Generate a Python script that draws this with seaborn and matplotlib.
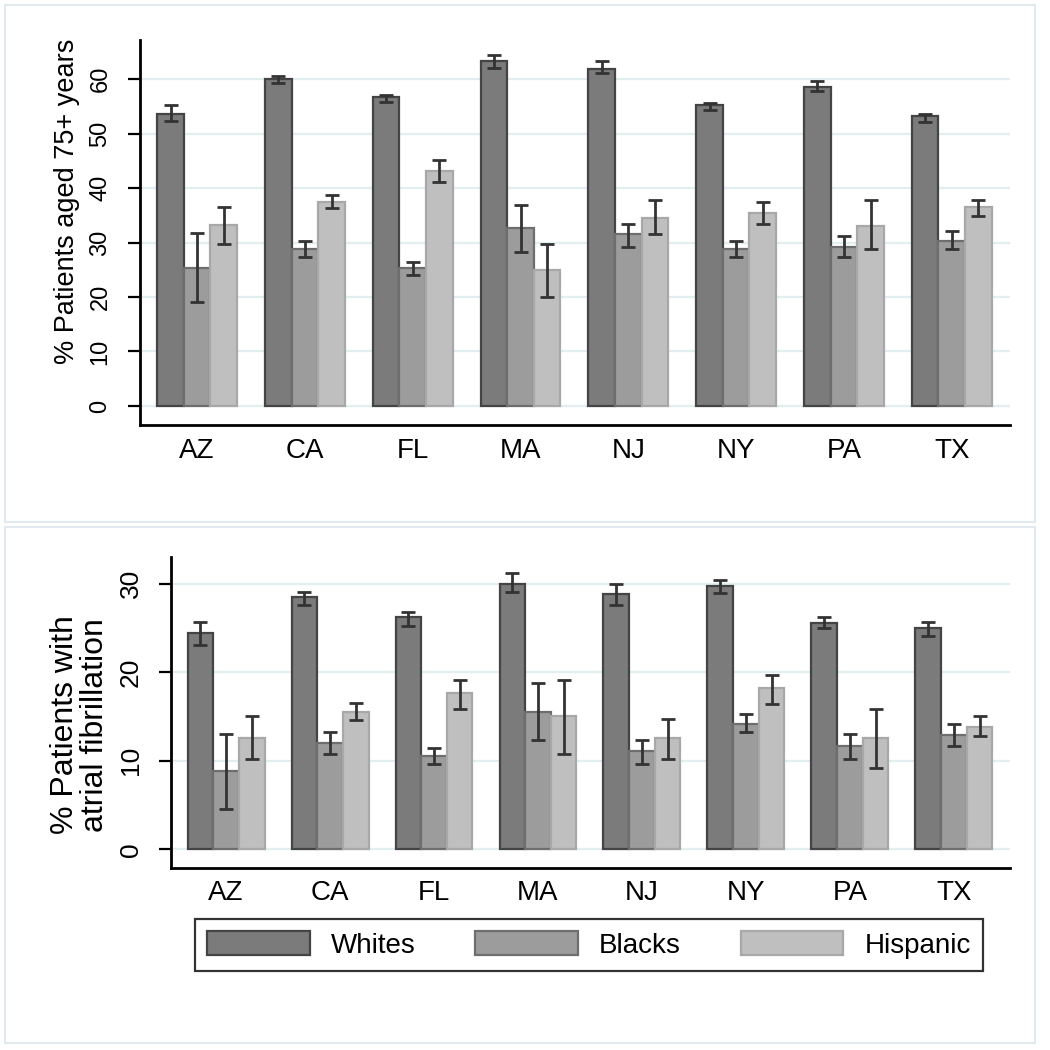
import numpy as np
import pandas as pd
import matplotlib
matplotlib.use("Agg")
import matplotlib.pyplot as plt
import seaborn as sns
from matplotlib.patches import Rectangle, Patch

states = ["AZ", "CA", "FL", "MA", "NJ", "NY", "PA", "TX"]
groups = ["Whites", "Blacks", "Hispanic"]

# Panel 1: % patients aged 75+ years
age_whites = [53.7, 60.0, 56.7, 63.4, 61.9, 55.3, 58.5, 53.3]
age_whites_lo = [52.4, 59.3, 55.9, 62.0, 61.1, 54.4, 57.9, 52.2]
age_whites_hi = [55.3, 60.5, 57.1, 64.5, 63.4, 55.7, 59.6, 53.7]
age_blacks = [25.4, 28.8, 25.4, 32.6, 31.6, 28.8, 29.2, 30.3]
age_blacks_lo = [19.1, 27.4, 24.0, 28.3, 29.2, 27.3, 27.3, 28.8]
age_blacks_hi = [31.7, 30.3, 26.5, 36.9, 33.5, 30.3, 31.2, 32.1]
age_hisp = [33.2, 37.5, 43.2, 24.9, 34.6, 35.5, 33.1, 36.5]
age_hisp_lo = [29.7, 36.4, 41.2, 20.0, 31.6, 33.5, 28.8, 34.9]
age_hisp_hi = [36.5, 38.8, 45.2, 29.8, 37.9, 37.4, 37.9, 37.9]

# Panel 2: % patients with atrial fibrillation
af_whites = [24.4, 28.5, 26.2, 30.0, 28.8, 29.7, 25.6, 25.0]
af_whites_lo = [23.1, 27.6, 25.2, 29.1, 27.6, 28.9, 25.0, 24.1]
af_whites_hi = [25.7, 29.1, 26.8, 31.2, 30.0, 30.4, 26.2, 25.7]
af_blacks = [8.8, 12.0, 10.5, 15.5, 11.1, 14.1, 11.7, 12.9]
af_blacks_lo = [4.6, 10.8, 9.6, 12.3, 9.6, 13.2, 10.2, 11.7]
af_blacks_hi = [13.0, 13.2, 11.4, 18.8, 12.3, 15.3, 13.0, 14.1]
af_hisp = [12.6, 15.5, 17.7, 15.0, 12.6, 18.2, 12.6, 13.8]
af_hisp_lo = [10.2, 14.6, 15.8, 10.8, 10.2, 16.4, 9.2, 12.8]
af_hisp_hi = [15.0, 16.5, 19.1, 19.1, 14.7, 19.7, 15.8, 15.0]

fills = {"Whites": "#7b7b7b", "Blacks": "#9c9c9c", "Hispanic": "#bfbfbf"}
edges = {"Whites": "#444444", "Blacks": "#6e6e6e", "Hispanic": "#a8a8a8"}

sns.set_theme(style="white")
plt.rcParams["font.family"] = ["Liberation Sans", "DejaVu Sans"]
plt.rcParams["text.color"] = "black"
plt.rcParams["axes.labelcolor"] = "black"
plt.rcParams["xtick.color"] = "black"
plt.rcParams["ytick.color"] = "black"

fig = plt.figure(figsize=(10.5, 10.5), dpi=100)


def make_df(vals, los, his):
    rows = []
    for g, v, lo, hi in zip(groups, vals, los, his):
        for s, a, b, c in zip(states, v, lo, hi):
            rows.append({"state": s, "group": g, "value": a, "lo": b, "hi": c})
    return pd.DataFrame(rows)


def draw(ax, df, yticks, ylim, ylabel, ytick_size, ylabel_size):
    sns.barplot(data=df, x="state", y="value", hue="group", order=states,
                hue_order=groups, palette=fills, width=0.74, errorbar=None,
                ax=ax, linewidth=1.6, saturation=1, zorder=2)
    for g, cont in zip(groups, ax.containers):
        sub = df[df.group == g].set_index("state").loc[states]
        xs = []
        for bar in cont:
            bar.set_edgecolor(edges[g])
            xs.append(bar.get_x() + bar.get_width() / 2)
        ax.errorbar(xs, sub["value"].values,
                    yerr=[sub["value"].values - sub["lo"].values,
                          sub["hi"].values - sub["value"].values],
                    fmt="none", ecolor="#333333", elinewidth=2.0,
                    capsize=5, capthick=2.0, zorder=3)
    leg = ax.get_legend()
    if leg is not None:
        leg.remove()
    ax.set_xlim(-0.53, 7.54)
    ax.set_ylim(*ylim)
    ax.set_yticks(yticks)
    ax.set_yticklabels([str(t) for t in yticks], rotation=90, va="center")
    ax.yaxis.grid(True, color="#e3eef0", linewidth=1.6, zorder=0)
    ax.xaxis.grid(False)
    ax.set_axisbelow(True)
    for sp in ["top", "right"]:
        ax.spines[sp].set_visible(False)
    for sp in ["left", "bottom"]:
        ax.spines[sp].set_color("black")
        ax.spines[sp].set_linewidth(2.0)
    ax.tick_params(axis="y", length=8.5, width=1.6, color="black",
                   pad=12, labelsize=ytick_size, left=True)
    ax.tick_params(axis="x", length=0, pad=9, labelsize=20)
    ax.set_xlabel("")
    ax.set_ylabel(ylabel, fontsize=ylabel_size, linespacing=0.97)


ax1 = fig.add_axes([140 / 1050, 1 - 425 / 1050, 870 / 1050, 385 / 1050])
draw(ax1, make_df([age_whites, age_blacks, age_hisp],
                  [age_whites_lo, age_blacks_lo, age_hisp_lo],
                  [age_whites_hi, age_blacks_hi, age_hisp_hi]),
     [0, 10, 20, 30, 40, 50, 60], (-3.5, 67.2), "% Patients aged 75+ years",
     17, 19.5)
ax1.yaxis.set_label_coords(-0.069, 0.58)

ax2 = fig.add_axes([171 / 1050, 1 - 868 / 1050, 839 / 1050, 311 / 1050])
draw(ax2, make_df([af_whites, af_blacks, af_hisp],
                  [af_whites_lo, af_blacks_lo, af_hisp_lo],
                  [af_whites_hi, af_blacks_hi, af_hisp_hi]),
     [0, 10, 20, 30], (-2.1, 33.0), "% Patients with\natrial fibrillation",
     19, 23)
ax2.yaxis.set_label_coords(-0.073, 0.46)

# panel frames
for (y0, y1) in [(5, 522), (527, 1043)]:
    fig.patches.append(Rectangle((5 / 1050, 1 - y1 / 1050), 1030 / 1050,
                                 (y1 - y0) / 1050, transform=fig.transFigure,
                                 fill=False, edgecolor="#e2eaf0", linewidth=1.5))

handles = [Patch(facecolor=fills[g], edgecolor=edges[g], linewidth=1.6, label=g)
           for g in groups]
leg = fig.legend(handles=handles, loc="center", ncol=3,
                 bbox_to_anchor=(589 / 1050, 1 - 945 / 1050),
                 fontsize=20, frameon=True, fancybox=False,
                 handlelength=3.7, handleheight=0.9, handletextpad=0.75,
                 columnspacing=2.15, borderpad=0.45, borderaxespad=0)
leg.get_frame().set_edgecolor("black")
leg.get_frame().set_linewidth(1.6)

fig.savefig("out.png", dpi=100, facecolor="white")
